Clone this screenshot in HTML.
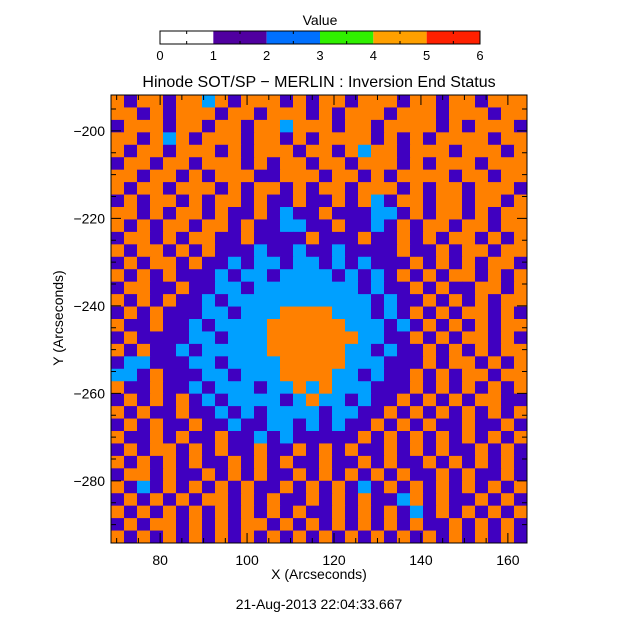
<!DOCTYPE html>
<html><head><meta charset="utf-8">
<style>
html,body{margin:0;padding:0;background:#fff;}
svg{display:block;font-family:"Liberation Sans",sans-serif;}
</style></head>
<body>
<svg id="chart" width="638" height="640" viewBox="0 0 638 640" xmlns="http://www.w3.org/2000/svg">
<text x="320" y="25" font-size="14" text-anchor="middle">Value</text>
<g id="cbar"></g>
<text x="319" y="87" font-size="16" text-anchor="middle">Hinode SOT/SP − MERLIN : Inversion End Status</text>
<g id="cells"></g>
<g id="axes"></g>
<text x="319" y="579" font-size="14" text-anchor="middle">X (Arcseconds)</text>
<text transform="translate(63,318) rotate(-90)" font-size="14" text-anchor="middle">Y (Arcseconds)</text>
<text x="319" y="609" font-size="14" text-anchor="middle">21-Aug-2013 22:04:33.667</text>
</svg>
<script>
const xDomain = [68.7, 164.4];
const yDomain = [-191.8, -294.2];
const xTicks = [80, 100, 120, 140, 160];
const yTicks = [-200, -220, -240, -260, -280];
const cbarTicks = [0, 1, 2, 3, 4, 5, 6];
const codeValue = {P: 1.5, B: 2.5, O: 4.5};
const statusRows = [
"OPOOPOOBOPOOOPOPOOPOOOPOOPOOPOOO",
"OOPOPOOOPOOPOOOPOPOOOPOOOPOOOPOO",
"POOOPOOPOOPOOBOOOPOOPOOOOPOPOOOP",
"OOPOBOPOOOPOOPOPOOOOPOPOPOOOOPOO",
"OPOOPOOOPOPOOOPOOPOBOOPOOOPOOOPO",
"POOPOOPOOOPOPOOPOOPOOOPOPOOOPOOO",
"OOPOOPOPOOOPPOOOPOOPOPOOOOPOOPOO",
"OPOOPOOOPOPOOPOPOOPOOOPOPOOPOOOP",
"POPOOPOPOOPOPPOPPOPOBPOOPOOPOOPO",
"OOPOPOOPOPPOPBPPOPPPBBPOPOOPOPOO",
"OPOPOOPOOPOPPBBPPOPPBPOPOOPOOPOO",
"POOPOPOOPPOPPPPOPPPOPPOPOPOOPOPO",
"OPOOPOPOPPPBPPBPPBPPPPOPPOPOOPOO",
"POPOOPOPPBPBBPBBPBPBPPPOPOPOPOOP",
"OPOPOPPPBPBBPBBBBPBPBPOPOPOOPOPO",
"POOPPOPPBBPBBBBBBBBPBPPOPOPPOOPO",
"OPOPOPPBPBBBBBBBBBBBPBPPOPOPOPOO",
"POPOPPPBBPBBBOOOOBBBPBPOPOPOOPOP",
"OPPOPPBPBBBBOOOOOOBBBPBPOPOPOPOO",
"POPPPPBBPBBBOOOOOOOBBPPOPOPOOPOP",
"OPOPPBPBBBBBOOOOOOBBPBPPOPOPOPOO",
"PBBPPPBBPBBBBOOOOOBBBPPPOPOOPOPO",
"BBPOPPPBBPBBBOOOOBBPBPPOPOPOOPOO",
"OPPOPPBPBBBPBBOBOBBBPPPOPOPOPOPO",
"POPOPOPBPBBBBPBOBBPBPPOPOPOPOOPP",
"OPOPPOPPBPBPBBBBPBBPPOPOPOPOPOPO",
"POPOPPOPPBPPBBPBPBPPOPOPOPPOPPOP",
"OPPOPOPPOPPBPBPPPPPOPOPOPOPOPOPO",
"POPOOPOPOPPOPPOPOPOPPOPOPOPPOPOP",
"OPOPOPOPPOPOPOPPOPPOPOPPOPOPOPOP",
"POOPOPPOPOPOPPOPOPOPOPOPPOPOPPOP",
"OPBPOPOPOPOPPOPOPOPBPOPOPOPOPOPO",
"POPOPOPOOPOPOPPOPOPOPPBOPOPPOPOP",
"OPOPOPOPOPOPOPOPPOPOPOPBPOPOPOPO",
"POPOOPOPOPOOPOPOPOPOPOPOPPOPOPOP",
"OPOPOPOPOPOPOPOPOPOPOPOPOPOPOPOP"
];
const NS = "http://www.w3.org/2000/svg";
const L = 111, R = 527, T = 95, B = 543;
function xs(v){ return L + (v - xDomain[0]) / (xDomain[1] - xDomain[0]) * (R - L); }
function ys(v){ return T + (v - yDomain[0]) / (yDomain[1] - yDomain[0]) * (B - T); }
function plotColor(v){
  if (v < 1) return "#ffffff";
  if (v < 2) return "#4000c0";
  if (v < 3) return "#00a0ff";
  if (v < 4) return "#30f000";
  if (v < 5) return "#ff8000";
  return "#ff2000";
}
const cbarColors = ["#ffffff","#5000a0","#0070ff","#30f000","#ffa000","#ff2000"];
function mk(tag, attrs, parent){
  const e = document.createElementNS(NS, tag);
  for (const k in attrs) e.setAttribute(k, attrs[k]);
  parent.appendChild(e);
  return e;
}
const cells = document.getElementById("cells");
const nr = statusRows.length, nc = statusRows[0].length;
const dx = (xDomain[1] - xDomain[0]) / nc, dy = (yDomain[1] - yDomain[0]) / nr;
for (let r = 0; r < nr; r++) {
  for (let c = 0; c < nc; c++) {
    const v = codeValue[statusRows[r][c]];
    const x0 = xs(xDomain[0] + c * dx), x1 = xs(xDomain[0] + (c + 1) * dx);
    const y0 = ys(yDomain[0] + r * dy), y1 = ys(yDomain[0] + (r + 1) * dy);
    const el = mk("rect", {x: x0, y: y0, width: x1 - x0 + 0.5, height: y1 - y0 + 0.5, fill: plotColor(v)}, cells);
    
    
  }
}
const axes = document.getElementById("axes");
mk("rect", {x: L, y: T, width: R - L, height: B - T, fill: "none", stroke: "#000", "stroke-width": 1}, axes);
xTicks.forEach(t => {
  const x = xs(t);
  mk("line", {x1: x, x2: x, y1: B, y2: B - 10, stroke: "#000"}, axes);
  mk("line", {x1: x, x2: x, y1: T, y2: T + 10, stroke: "#000"}, axes);
  const lb = mk("text", {x: x, y: B + 22, "font-size": 14, "text-anchor": "middle"}, axes);
  lb.textContent = t;
  
  
});
for (let t = 70; t <= 164; t += 5) {
  if (t % 20 === 0) continue;
  const x = xs(t);
  mk("line", {x1: x, x2: x, y1: B, y2: B - 5, stroke: "#000"}, axes);
  mk("line", {x1: x, x2: x, y1: T, y2: T + 5, stroke: "#000"}, axes);
}
yTicks.forEach(t => {
  const y = ys(t);
  mk("line", {x1: L, x2: L + 10, y1: y, y2: y, stroke: "#000"}, axes);
  mk("line", {x1: R, x2: R - 10, y1: y, y2: y, stroke: "#000"}, axes);
  const lb = mk("text", {x: L - 6, y: y + 5, "font-size": 14, "text-anchor": "end"}, axes);
  lb.textContent = "\u2212" + Math.abs(t);
  
  
});
for (let t = -195; t >= -290; t -= 5) {
  if (t % 20 === 0) continue;
  const y = ys(t);
  mk("line", {x1: L, x2: L + 5, y1: y, y2: y, stroke: "#000"}, axes);
  mk("line", {x1: R, x2: R - 5, y1: y, y2: y, stroke: "#000"}, axes);
}
const cb = document.getElementById("cbar");
const cL = 160, cR = 480, cT = 31, cB = 44;
function cx(v){ return cL + v / 6 * (cR - cL); }
cbarColors.forEach((col, i) => {
  const el = mk("rect", {x: cx(i), y: cT, width: cx(i + 1) - cx(i), height: cB - cT, fill: col}, cb);
  
  
});
mk("rect", {x: cL, y: cT, width: cR - cL, height: cB - cT, fill: "none", stroke: "#000"}, cb);
for (let v = 0.5; v < 6; v += 1) {
  mk("line", {x1: cx(v), x2: cx(v), y1: cB, y2: cB - 3, stroke: "#000"}, cb);
  mk("line", {x1: cx(v), x2: cx(v), y1: cT, y2: cT + 3, stroke: "#000"}, cb);
}
cbarTicks.forEach(t => {
  const lb = mk("text", {x: cx(t), y: 60, "font-size": 13, "text-anchor": "middle"}, cb);
  lb.textContent = t;
  
  
});
</script>
</body></html>
